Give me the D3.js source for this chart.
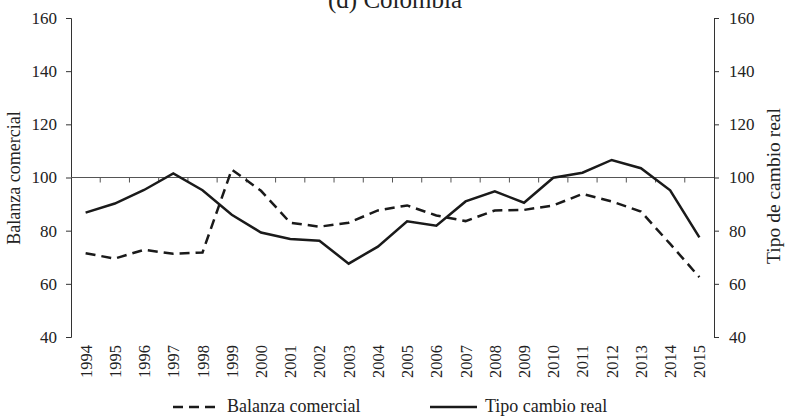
<!DOCTYPE html>
<html>
<head>
<meta charset="utf-8">
<script src="https://cdn.jsdelivr.net/npm/d3@7"></script>
<style>
  body { margin: 0; background: #fff; }
  svg text { font-family: "Liberation Serif", "DejaVu Serif", serif; fill: #222; }
</style>
</head>
<body>
<div id="vis"></div>
<script>
const w = 788;
const h = 417;
const margin = ({top: 18, right: 74, bottom: 80, left: 71});

const years = ["1994","1995","1996","1997","1998","1999","2000","2001","2002","2003","2004",
               "2005","2006","2007","2008","2009","2010","2011","2012","2013","2014","2015"];
const balanza = [71.5, 69.5, 72.8, 71.3, 71.8, 103, 95, 83, 81.5, 83, 87.6,
                 89.5, 85.7, 83.6, 87.6, 87.8, 89.5, 93.8, 91, 87.2, 75, 62.5];
const tipoCambio = [86.8, 90.2, 95.3, 101.5, 95.2, 86, 79.3, 76.9, 76.2, 67.6, 74,
                    83.5, 81.9, 91, 94.8, 90.5, 99.9, 101.8, 106.6, 103.5, 95.2, 77.5];
const yTicks = [40, 60, 80, 100, 120, 140, 160];

const svg = d3.select('#vis')
    .append('svg')
    .attr('width', w)
    .attr('height', h);

let xScale = d3.scaleBand()
    .domain(years)
    .range([margin.left, w - margin.right]);

let yScale = d3.scaleLinear()
    .domain([40, 160])
    .range([h - margin.bottom, margin.top]);

// title (top is clipped in the original too)
svg.append('text')
    .attr('x', 395)
    .attr('y', 8)
    .attr('text-anchor', 'middle')
    .style('font-size', '25px')
    .text('(d) Colombia');

// left axis
svg.append('g')
    .attr('transform', 'translate(' + margin.left + ',0)')
    .call(d3.axisLeft(yScale).tickValues(yTicks).tickSize(5).tickPadding(9))
    .call(g => g.selectAll('text').style('font-size', '17px'))
    .call(g => g.select('.domain').attr('stroke', '#333'))
    .call(g => g.selectAll('.tick line').attr('stroke', '#333'));

// right axis
svg.append('g')
    .attr('transform', 'translate(' + (w - margin.right) + ',0)')
    .call(d3.axisRight(yScale).tickValues(yTicks).tickSize(5).tickPadding(10))
    .call(g => g.selectAll('text').style('font-size', '17px'))
    .call(g => g.select('.domain').attr('stroke', '#333'))
    .call(g => g.selectAll('.tick line').attr('stroke', '#333'));

// horizontal axis line at 100 with ticks between years
const y100 = yScale(100);
svg.append('line')
    .attr('x1', margin.left).attr('x2', w - margin.right)
    .attr('y1', y100).attr('y2', y100)
    .attr('stroke', '#555').attr('stroke-width', 1);

svg.selectAll('.sep')
    .data(years.slice(1))
    .join('line')
    .attr('class', 'sep')
    .attr('x1', d => xScale(d)).attr('x2', d => xScale(d))
    .attr('y1', y100).attr('y2', y100 + 5)
    .attr('stroke', '#555');

// year labels (rotated)
svg.selectAll('.yr')
    .data(years)
    .join('text')
    .attr('class', 'yr')
    .attr('transform', d => 'translate(' + (xScale(d) + xScale.bandwidth() / 2 + 6) + ',' + (h - margin.bottom + 8) + ') rotate(-90)')
    .attr('text-anchor', 'end')
    .style('font-size', '16.5px')
    .text(d => d);

// axis titles
svg.append('text')
    .attr('transform', 'translate(20,178) rotate(-90)')
    .attr('text-anchor', 'middle')
    .style('font-size', '18px')
    .text('Balanza comercial');

svg.append('text')
    .attr('transform', 'translate(780,186) rotate(-90)')
    .attr('text-anchor', 'middle')
    .style('font-size', '19.5px')
    .text('Tipo de cambio real');

const line = d3.line()
    .x((d, i) => xScale(years[i]) + xScale.bandwidth() / 2)
    .y(d => yScale(d));

svg.append('path')
    .datum(balanza)
    .attr('d', line)
    .attr('fill', 'none')
    .attr('stroke', '#1a1a1a')
    .attr('stroke-width', 2.5)
    .attr('stroke-dasharray', '10,6');

svg.append('path')
    .datum(tipoCambio)
    .attr('d', line)
    .attr('fill', 'none')
    .attr('stroke', '#1a1a1a')
    .attr('stroke-width', 2.5);

// legend
const legendY = 407;
svg.append('line')
    .attr('x1', 173).attr('x2', 217)
    .attr('y1', legendY).attr('y2', legendY)
    .attr('stroke', '#1a1a1a').attr('stroke-width', 2.5)
    .attr('stroke-dasharray', '10,6');
svg.append('text')
    .attr('x', 227).attr('y', 412)
    .style('font-size', '18px')
    .text('Balanza comercial');

svg.append('line')
    .attr('x1', 430).attr('x2', 477)
    .attr('y1', legendY).attr('y2', legendY)
    .attr('stroke', '#1a1a1a').attr('stroke-width', 2.5);
svg.append('text')
    .attr('x', 485).attr('y', 412)
    .style('font-size', '18px')
    .text('Tipo cambio real');
</script>
</body>
</html>
